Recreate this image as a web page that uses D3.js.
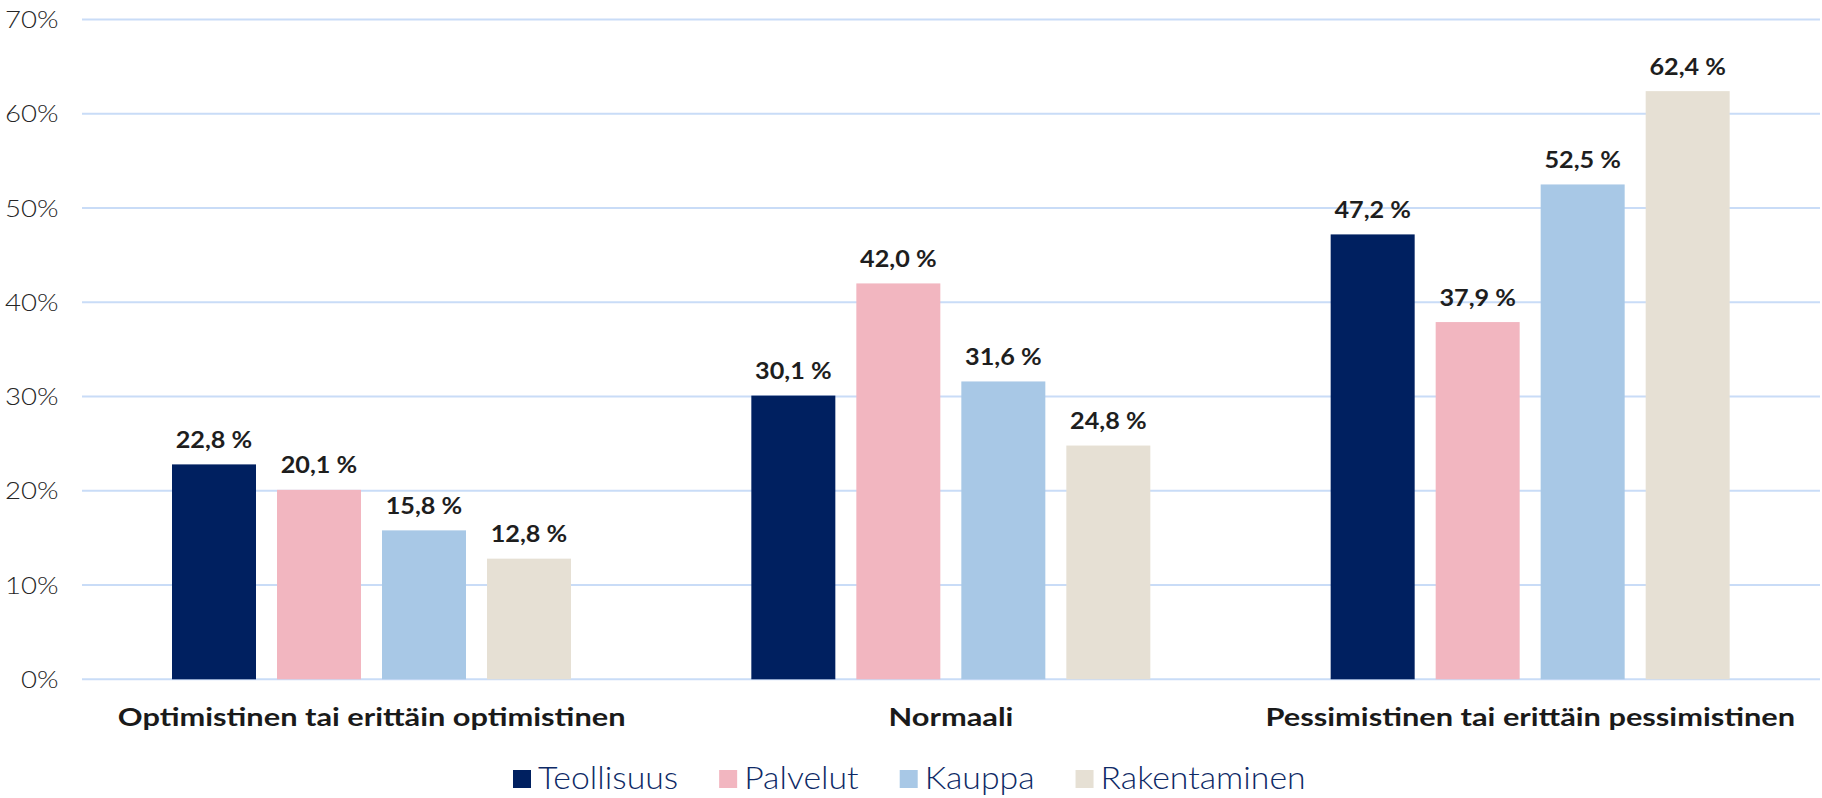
<!DOCTYPE html>
<html>
<head>
<meta charset="utf-8">
<script src="https://cdn.jsdelivr.net/npm/d3@7"></script>
<style>
  html, body { margin: 0; padding: 0; background: #fff; }
  svg { display: block; }
</style>
</head>
<body>
<svg id="chart" width="1822" height="798"></svg>
<script>
const categories = ["Optimistinen tai erittäin optimistinen", "Normaali", "Pessimistinen tai erittäin pessimistinen"];
const seriesNames = ["Teollisuus", "Palvelut", "Kauppa", "Rakentaminen"];
const teollisuus = [22.8, 30.1, 47.2];
const palvelut = [20.1, 42.0, 37.9];
const kauppa = [15.8, 31.6, 52.5];
const rakentaminen = [12.8, 24.8, 62.4];
const yTicks = [0, 10, 20, 30, 40, 50, 60, 70];
const colors = ["#002060", "#F2B6C0", "#A8C8E6", "#E6E0D4"];

const seriesValues = [teollisuus, palvelut, kauppa, rakentaminen];
const table = categories.map((c, i) => ({
  category: c,
  values: seriesNames.map((s, j) => ({ series: s, value: seriesValues[j][i], color: colors[j] }))
}));

const svg = d3.select("#chart");
const FONT = "Lato, 'Open Sans', sans-serif";

// widen text to approximate the wide geometric face of the original
function stretch(sel, factor) {
  sel.each(function () {
    const w = this.getComputedTextLength();
    d3.select(this).attr("textLength", w * factor).attr("lengthAdjust", "spacingAndGlyphs");
  });
}

const plotLeft = 82, plotRight = 1820, plotTop = 19.5, plotBottom = 679.3;

const y = d3.scaleLinear().domain([0, 70]).range([plotBottom, plotTop]);
const x0 = d3.scaleBand().domain(categories).range([plotLeft, plotRight]).padding(0);
const x1 = d3.scaleBand().domain(seriesNames).range([90, 489]).paddingInner(0.2);

// gridlines
svg.append("g")
  .selectAll("line")
  .data(yTicks)
  .join("line")
  .attr("x1", plotLeft).attr("x2", plotRight)
  .attr("y1", d => y(d)).attr("y2", d => y(d))
  .attr("stroke", "#C9DCF7").attr("stroke-width", 2);

// y axis labels
const yAxis = d3.axisLeft(y).tickValues(yTicks).tickFormat(d => d + "%").tickSize(0).tickPadding(0);
const gy = svg.append("g").attr("transform", `translate(58.5,0)`).call(yAxis);
gy.select(".domain").remove();
gy.selectAll("text")
  .attr("font-family", FONT).attr("font-size", 23).attr("font-weight", 300)
  .attr("fill", "#262626").attr("dy", "0.35em");
stretch(gy.selectAll("text"), 1.2);

// bars
const groups = svg.append("g").selectAll("g")
  .data(table).join("g")
  .attr("transform", d => `translate(${x0(d.category)},0)`);

groups.selectAll("rect")
  .data(d => d.values).join("rect")
  .attr("x", d => x1(d.series))
  .attr("width", x1.bandwidth())
  .attr("y", d => y(d.value))
  .attr("height", d => y(0) - y(d.value))
  .attr("fill", d => d.color);

const valueLabels = groups.selectAll("text")
  .data(d => d.values).join("text")
  .attr("x", d => x1(d.series) + x1.bandwidth() / 2)
  .attr("y", d => y(d.value) - 16.5)
  .attr("text-anchor", "middle")
  .attr("font-family", FONT).attr("font-size", 22.5).attr("font-weight", 700)
  .attr("fill", "#1E1E1E")
  .text(d => d.value.toFixed(1).replace(".", ",") + " %");
stretch(valueLabels, 1.12);

// category labels
const xAxis = d3.axisBottom(x0).tickSize(0).tickPadding(0);
const gx = svg.append("g").attr("transform", `translate(0,726)`).call(xAxis);
gx.select(".domain").remove();
gx.selectAll("text")
  .attr("dy", 0)
  .attr("font-family", FONT).attr("font-size", 25).attr("font-weight", 700)
  .attr("fill", "#1A1A1A");
stretch(gx.selectAll("text"), 1.23);

// legend
const legend = svg.append("g");
let lx = 513;
seriesNames.forEach((s, i) => {
  legend.append("rect")
    .attr("x", lx).attr("y", 770).attr("width", 18).attr("height", 18)
    .attr("fill", colors[i]);
  const t = legend.append("text")
    .attr("x", lx + 25).attr("y", 789)
    .attr("font-family", FONT).attr("font-size", 31).attr("font-weight", 300)
    .attr("fill", "#0E2A66")
    .text(s);
  const w = t.node().getComputedTextLength() * 1.09;
  t.attr("textLength", w).attr("lengthAdjust", "spacingAndGlyphs");
  lx += 25 + w + 41;
});
</script>
</body>
</html>
